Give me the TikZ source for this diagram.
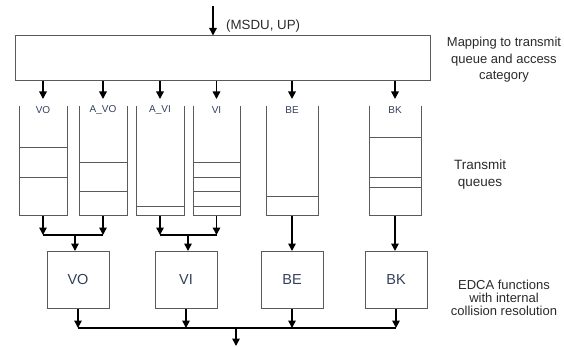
\documentclass[tikz,border=0pt]{standalone}
\usepackage{fontspec}
\setmainfont{Liberation Sans}
\usepackage{xcolor}
\usetikzlibrary{arrows.meta}
\definecolor{boxgray}{HTML}{5A5A5A}
\definecolor{labelblue}{HTML}{34405A}
\definecolor{sidegray}{HTML}{2A2A2A}

\begin{document}
\begin{tikzpicture}[x=1pt,y=-1pt,
	arr/.style={-{Triangle[length=7.5pt,width=7.5pt]},line width=1.5pt,black},
	bus/.style={line width=1.5pt,black},
	qline/.style={draw=boxgray,line width=1pt},
	qlabel/.style={font=\fontsize{10}{12}\selectfont,text=labelblue,inner sep=0pt},
	edca/.style={draw=boxgray,line width=1pt,minimum width=62pt,minimum height=57pt,inner sep=0pt,font=\fontsize{14.5}{16}\selectfont,text=labelblue},
	side/.style={align=center,text=sidegray,inner sep=0pt}]
		\useasboundingbox (0,0) rectangle (564,347);
		\node[draw=boxgray,line width=1pt,minimum width=415pt,minimum height=45pt,inner sep=0pt] (map) at (222.5,58.5) {};
		\coordinate (in) at (213,6);
		\draw[arr] (in) -- (in |- map.north);
		\node[anchor=west,inner sep=0pt,text=sidegray,font=\fontsize{13.3}{15}\selectfont] (msdu) at (226,26) {(MSDU, UP)};
		\node[side,font=\fontsize{13}{16.5}\selectfont] (maptext) at (504,60) {Mapping to transmit\\queue and access\\category};
		\foreach \n/\l/\r/\t/\s in {qvo/19/67/VO/{148,178}, qavo/79/127/A\_VO/{163,192}, qavi/136/184/A\_VI/{207}, qvi/193/240/VI/{163,178,192,207}, qbe/266/318/BE/{197}, qbk/369/421/BK/{138,178,188}}{
			\pgfmathsetmacro\c{(\l+\r)/2}
			\coordinate (\n-in) at (\c,99);
			\coordinate (\n-bot) at (\c,216);
			\draw[arr] (\n-in |- map.south) -- (\n-in);
			\node[qlabel] (\n-lab) at (\c,110) {\t};
			\draw[qline] (\l,106) -- (\l,216) -- (\r,216) -- (\r,106);
			\foreach \y in \s
				\draw[qline] (\l,\y) -- (\r,\y);
		}
		\node[side,font=\fontsize{13.5}{17}\selectfont] (qtext) at (480,175) {Transmit\\queues};
		\node[edca] (evo) at (78,280) {VO};
		\node[edca] (evi) at (186,280) {VI};
		\node[edca] (ebe) at (292,280) {BE};
		\node[edca] (ebk) at (396,280) {BK};
		\node[side,font=\fontsize{13}{13}\selectfont] (etext) at (504,298) {EDCA functions\\with internal\\collision resolution};
		\coordinate (mvo) at (75,235);
		\coordinate (mvi) at (188,235);
		\foreach \q/\m in {qvo/mvo,qavo/mvo,qavi/mvi,qvi/mvi}
			\draw[arr] (\q-bot) -- (\q-bot |- \m);
		\draw[bus] (qvo-bot |- mvo) -- (qavo-bot |- mvo);
		\draw[bus] (qavi-bot |- mvi) -- (qvi-bot |- mvi);
		\draw[arr] (mvo) -- (mvo |- evo.north);
		\draw[arr] (mvi) -- (mvi |- evi.north);
		\draw[arr] (qbe-bot) -- (qbe-bot |- ebe.north);
		\draw[arr] (qbk-bot) -- (qbk-bot |- ebk.north);
		\coordinate (join) at (236,328);
		\coordinate (out) at (236,346);
		\foreach \e in {evo,evi,ebe,ebk}
			\draw[arr] (\e.south) -- (\e.south |- join);
		\draw[bus] (evo.south |- join) -- (ebk.south |- join);
		\draw[arr] (join) -- (out);
	\end{tikzpicture}
\end{document}
